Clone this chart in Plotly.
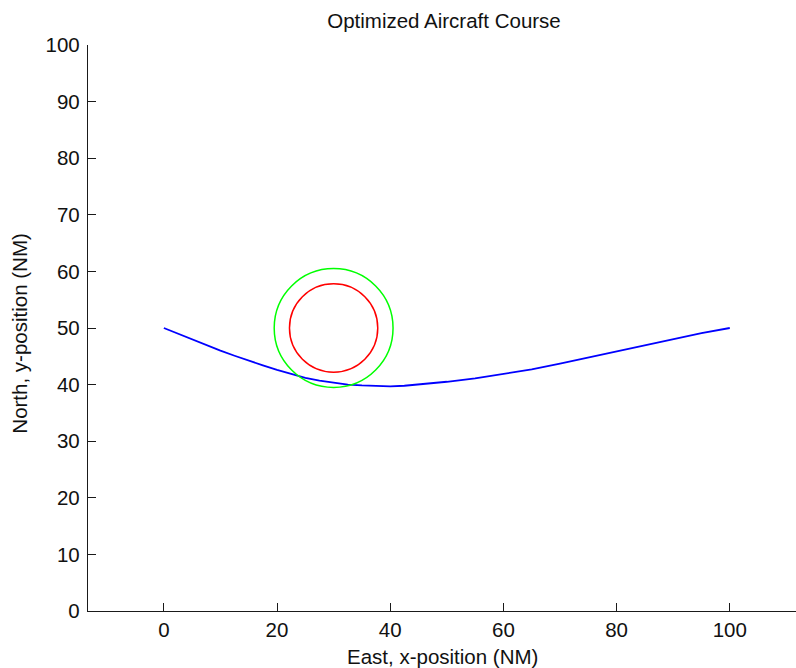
import plotly.graph_objects as go

# Aircraft course (East NM, North NM)
course_x = [0, 2.5, 5, 7.5, 10, 12.5, 15, 17.5, 20, 22.5, 25, 27.5, 30, 32.5, 35,
            37.5, 40, 42.5, 45, 47.5, 50, 55, 60, 65, 70, 75, 80, 85, 90, 95, 100]
course_y = [50, 49.0, 47.9, 46.9, 46.0, 45.1, 44.2, 43.4, 42.6, 41.9, 41.2, 40.7,
            40.3, 40.0, 39.85, 39.75, 39.7, 39.8, 40.0, 40.2, 40.5, 41.1, 41.9,
            42.7, 43.7, 44.8, 45.8, 46.9, 48.0, 49.1, 50]

# Obstacle circles: center and radii
circle_center = [30, 50]
circle_radii = [7.8, 10.5]
circle_colors = ["#ff0000", "#00ff00"]

x_ticks = [0, 20, 40, 60, 80, 100]
y_ticks = [0, 10, 20, 30, 40, 50, 60, 70, 80, 90, 100]

FONT = "Liberation Sans, Arial, sans-serif"
FS = 20.5

fig = go.Figure()
fig.add_trace(go.Scatter(x=course_x, y=course_y, mode="lines",
                         line=dict(color="#0000ff", width=1.8), showlegend=False))

for r, c in zip(circle_radii, circle_colors):
    fig.add_shape(type="circle", xref="x", yref="y",
                  x0=circle_center[0] - r, x1=circle_center[0] + r,
                  y0=circle_center[1] - r, y1=circle_center[1] + r,
                  line=dict(color=c, width=1.5))

axis_common = dict(showgrid=False, zeroline=False, showline=True, linecolor="#1a1a1a",
                   linewidth=1.3, ticks="inside", ticklen=8, tickwidth=1.3,
                   tickcolor="#1a1a1a", tickfont=dict(family=FONT, size=FS, color="#111"))

fig.update_layout(
    width=796, height=668,
    margin=dict(l=88, r=0, t=45, b=57),
    paper_bgcolor="white", plot_bgcolor="white",
    xaxis=dict(range=[-13.4, 111.7], tickvals=x_ticks, ticklabelstandoff=0, **axis_common),
    yaxis=dict(range=[0, 100], tickvals=y_ticks, ticklabelstandoff=3, **axis_common),
    title=dict(text="Optimized Aircraft Course", font=dict(family=FONT, size=FS, color="#111"),
               xref="container", yref="container", x=444 / 796, y=1 - 21 / 668,
               xanchor="center", yanchor="middle"),
    annotations=[
        dict(text="East, x-position (NM)", xref="paper", yref="paper", x=0.5, y=0,
             xanchor="center", yanchor="middle", yshift=-45, showarrow=False,
             font=dict(family=FONT, size=FS, color="#111")),
        dict(text="North, y-position (NM)", xref="paper", yref="paper", x=0, y=0.49,
             xanchor="center", yanchor="middle", xshift=-68, textangle=-90, showarrow=False,
             font=dict(family=FONT, size=FS, color="#111")),
    ],
)

fig.write_html("out.html")
